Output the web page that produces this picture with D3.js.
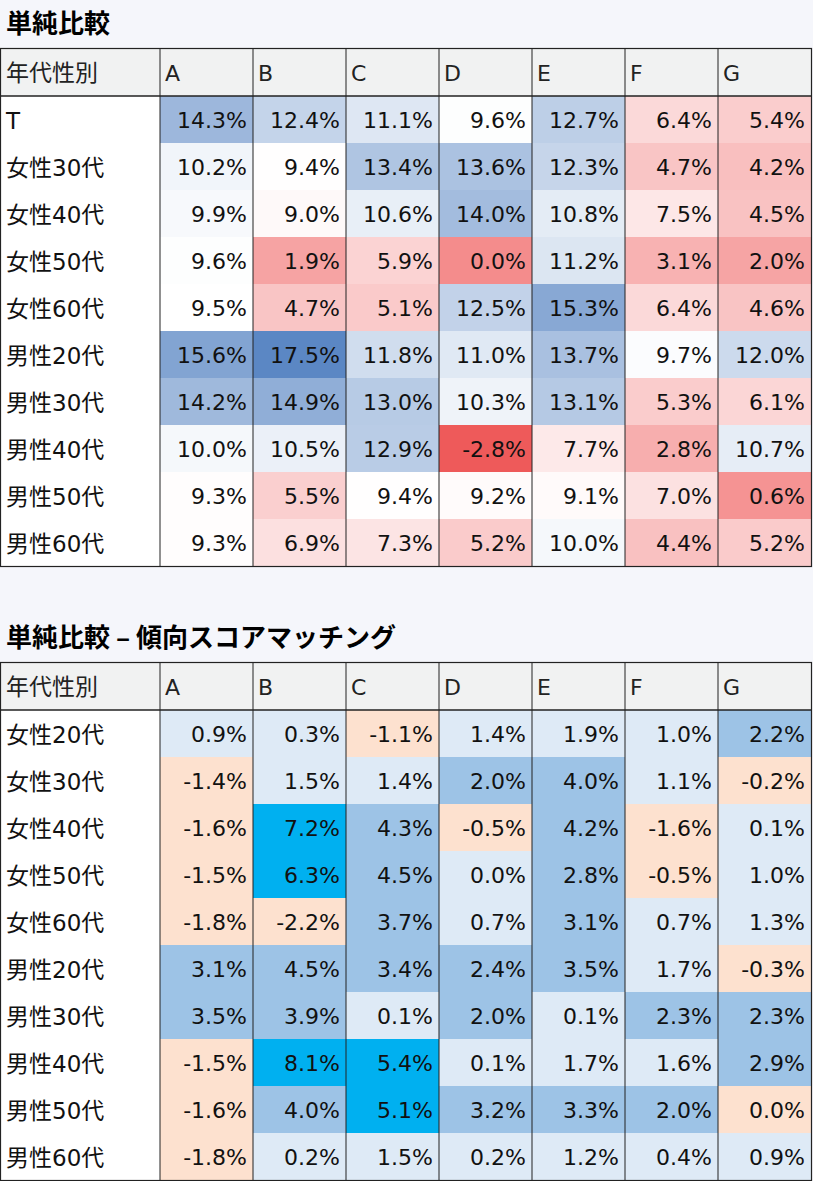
<!DOCTYPE html>
<html><head><meta charset="utf-8">
<script src="https://cdn.jsdelivr.net/npm/d3@7"></script>
<style>body{margin:0;background:#f5f6fb;}</style>
</head><body><svg id="chart" width="813" height="1181"></svg>
<script>
// Data
const columns = ["A","B","C","D","E","F","G"];
const rows1 = ["T","女性30代","女性40代","女性50代","女性60代","男性20代","男性30代","男性40代","男性50代","男性60代"];
const values1 = [
  [14.3,12.4,11.1,9.6,12.7,6.4,5.4],
  [10.2,9.4,13.4,13.6,12.3,4.7,4.2],
  [9.9,9.0,10.6,14.0,10.8,7.5,4.5],
  [9.6,1.9,5.9,0.0,11.2,3.1,2.0],
  [9.5,4.7,5.1,12.5,15.3,6.4,4.6],
  [15.6,17.5,11.8,11.0,13.7,9.7,12.0],
  [14.2,14.9,13.0,10.3,13.1,5.3,6.1],
  [10.0,10.5,12.9,-2.8,7.7,2.8,10.7],
  [9.3,5.5,9.4,9.2,9.1,7.0,0.6],
  [9.3,6.9,7.3,5.2,10.0,4.4,5.2]
];
const rows2 = ["女性20代","女性30代","女性40代","女性50代","女性60代","男性20代","男性30代","男性40代","男性50代","男性60代"];
const values2 = [
  [0.9,0.3,-1.1,1.4,1.9,1.0,2.2],
  [-1.4,1.5,1.4,2.0,4.0,1.1,-0.2],
  [-1.6,7.2,4.3,-0.5,4.2,-1.6,0.1],
  [-1.5,6.3,4.5,0.0,2.8,-0.5,1.0],
  [-1.8,-2.2,3.7,0.7,3.1,0.7,1.3],
  [3.1,4.5,3.4,2.4,3.5,1.7,-0.3],
  [3.5,3.9,0.1,2.0,0.1,2.3,2.3],
  [-1.5,8.1,5.4,0.1,1.7,1.6,2.9],
  [-1.6,4.0,5.1,3.2,3.3,2.04,-0.04],
  [-1.8,0.2,1.5,0.2,1.2,0.4,0.9]
];

const svg = d3.select("#chart");
const font = "'DejaVu Sans', 'Noto Sans CJK JP', sans-serif";
const fmt = v => { let s = v.toFixed(1); if (s === "-0.0") s = "0.0"; return s + "%"; };

const color1 = d3.scaleLinear().domain([-2.8, 0, 9.5, 17.5])
  .range(["#ee5a5a", "#f48c8c", "#ffffff", "#5b87c4"]).clamp(true);
const color2 = d3.scaleThreshold().domain([0, 2, 5])
  .range(["#fde1cf", "#deeaf6", "#9dc3e6", "#00b0f0"]);

function drawTable(top, title, rowNames, values, color) {
  const g = svg.append("g").attr("transform", `translate(0,${top})`);
  g.append("text").attr("x", 6).attr("y", -15).attr("font-family", "'Noto Sans CJK JP', sans-serif")
    .attr("font-weight", "bold").attr("font-size", 26).text(title);

  const x = d3.scaleBand().domain(columns).range([160, 811]);
  const headH = 48, rowH = 47;
  const y = d3.scaleBand().domain(rowNames).range([headH, headH + rowH * rowNames.length]);
  const bottom = headH + rowH * rowNames.length;

  g.append("rect").attr("x", 0).attr("y", 0).attr("width", 811).attr("height", headH).attr("fill", "#f1f2f2");
  g.append("rect").attr("x", 0).attr("y", headH).attr("width", 160).attr("height", bottom - headH).attr("fill", "#ffffff");

  rowNames.forEach((r, i) => {
    columns.forEach((c, j) => {
      g.append("rect").attr("x", x(c)).attr("y", y(r)).attr("width", x.bandwidth()).attr("height", y.bandwidth())
        .attr("fill", color(values[i][j]));
      g.append("text").attr("x", x(c) + x.bandwidth() - 6).attr("y", y(r) + rowH / 2 + 8)
        .attr("text-anchor", "end").attr("font-family", font).attr("font-size", 22).attr("fill", "#111")
        .text(fmt(values[i][j]));
    });
    g.append("text").attr("x", 6).attr("y", y(r) + rowH / 2 + 9).attr("font-family", font)
      .attr("font-size", 23).attr("fill", "#111").text(r);
  });

  g.append("text").attr("x", 6).attr("y", headH / 2 + 9).attr("font-family", font)
    .attr("font-size", 23).attr("fill", "#222").text("年代性別");
  columns.forEach(c => {
    g.append("text").attr("x", x(c) + 5).attr("y", headH / 2 + 9).attr("font-family", font)
      .attr("font-size", 22).attr("fill", "#222").text(c);
  });

  // grid lines
  columns.forEach(c => {
    g.append("line").attr("x1", x(c)).attr("x2", x(c)).attr("y1", 0).attr("y2", bottom)
      .attr("stroke", "#222").attr("stroke-width", 1);
  });
  g.append("line").attr("x1", 0).attr("x2", 811).attr("y1", headH).attr("y2", headH)
    .attr("stroke", "#222").attr("stroke-width", 1.5);
  g.append("rect").attr("x", 0.5).attr("y", 0.5).attr("width", 811).attr("height", bottom)
    .attr("fill", "none").attr("stroke", "#222").attr("stroke-width", 1.2);
}

drawTable(48, "単純比較", rows1, values1, color1);
drawTable(662, "単純比較 – 傾向スコアマッチング", rows2, values2, color2);
</script></body></html>
